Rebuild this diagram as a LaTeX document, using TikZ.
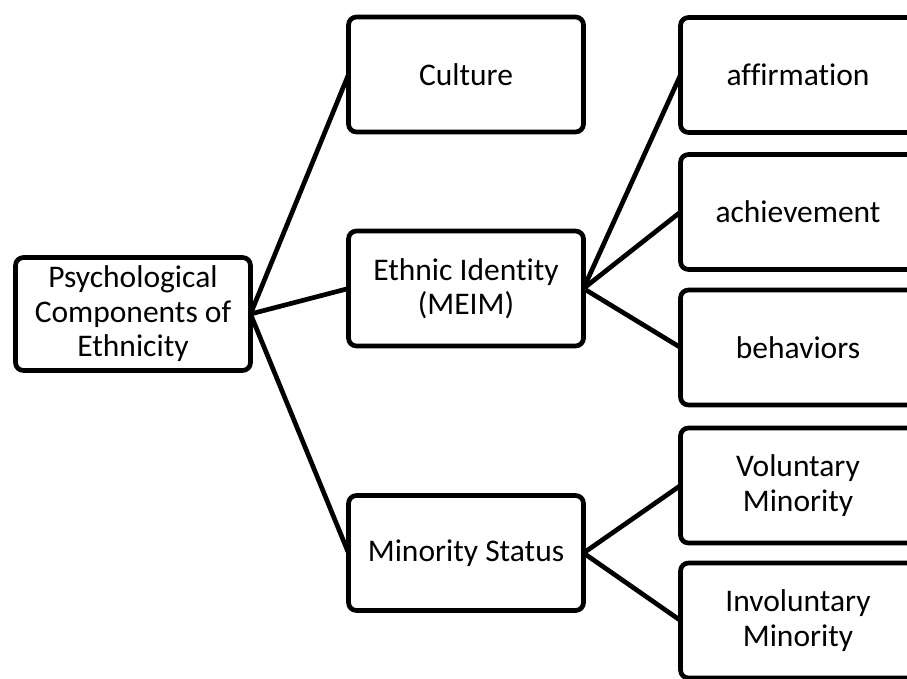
\documentclass[tikz,border=0pt]{standalone}
\usepackage{fontspec}
\setmainfont{Carlito}[RawFeature={-liga}]
\begin{document}
\begin{tikzpicture}[x=1pt,y=-1pt,
  box/.style={draw=black, line width=4.7pt, rounded corners=8pt, minimum width=235pt,
    minimum height=115pt, align=center, inner sep=0pt, outer sep=0pt,
    font=\fontsize{31.5}{34.5}\selectfont},
  link/.style={draw=black, line width=4.7pt}]
\useasboundingbox (0,0) rectangle (907,679);
\clip (0,0) rectangle (907,679);
\node[box, minimum height=113pt] (root) at (133,314) {Psychological\\Components of\\Ethnicity};
\node[box] (cult) at (466,74.5) {Culture};
\node[box] (eth) at (466,288.5) {Ethnic Identity\\(MEIM)};
\node[box] (min) at (466,553) {Minority Status};
\node[box] (aff) at (798,75) {affirmation};
\node[box] (ach) at (798,212) {achievement};
\node[box] (beh) at (798,347.5) {behaviors};
\node[box] (vol) at (798,485.5) {Voluntary\\Minority};
\node[box] (inv) at (798,620.5) {Involuntary\\Minority};
\draw[link] (root.east) -- (cult.west);
\draw[link] (root.east) -- (eth.west);
\draw[link] (root.east) -- (min.west);
\draw[link] (eth.east) -- (aff.west);
\draw[link] (eth.east) -- (ach.west);
\draw[link] (eth.east) -- (beh.west);
\draw[link] (min.east) -- (vol.west);
\draw[link] (min.east) -- (inv.west);
\end{tikzpicture}
\end{document}
